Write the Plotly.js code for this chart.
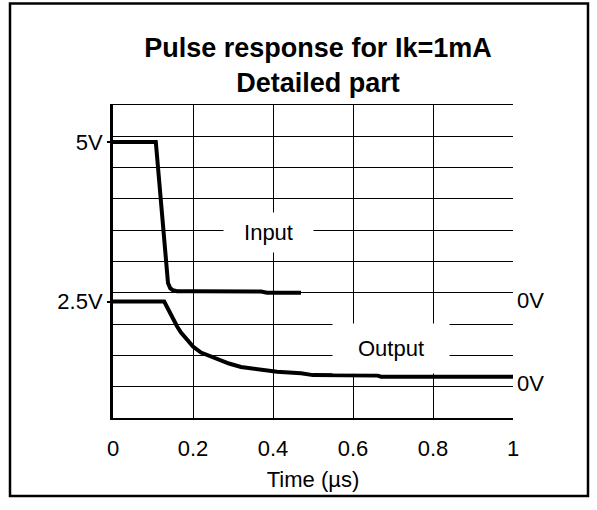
<!DOCTYPE html>
<html>
<head>
<meta charset="utf-8">
<script src="https://cdn.plot.ly/plotly-3.0.1.min.js"></script>
<style>html,body{margin:0;padding:0;background:#fff;}#chart{width:597px;height:510px;}</style>
</head>
<body>
<div id="chart"></div>
<script>
// Time axis (µs)
const inputTime = [0, 0.107, 0.1375, 0.143, 0.15, 0.16, 0.2, 0.25, 0.3, 0.37, 0.385, 0.42, 0.47];
const inputLevel = [8.82, 8.82, 4.31, 4.15, 4.08, 4.05, 4.05, 4.05, 4.04, 4.04, 4.0, 4.0, 4.0];
const outputTime = [0, 0.128, 0.137, 0.149, 0.16, 0.17, 0.185, 0.2, 0.22, 0.255, 0.29, 0.32, 0.37, 0.41, 0.47, 0.5, 0.66, 0.67, 1.0];
const outputLevel = [3.72, 3.72, 3.50, 3.18, 2.93, 2.73, 2.48, 2.28, 2.09, 1.90, 1.74, 1.63, 1.55, 1.48, 1.43, 1.37, 1.36, 1.32, 1.32];
const xTickVals = [0, 0.2, 0.4, 0.6, 0.8, 1];
const xTickText = ['0', '0.2', '0.4', '0.6', '0.8', '1'];
const leftTickVals = [8.82, 3.72];
const leftTickText = ['5V', '2.5V'];
const rightTickVals = [3.77, 1.1];
const rightTickText = ['0V', '0V'];
const seriesLabels = ['Input', 'Output'];
const labelX = [0.389, 0.694];
const labelY = [5.92, 2.22];

const FONT = '"Liberation Sans", Arial, sans-serif';
const FS = 22;

const traces = [
  {x: inputTime, y: inputLevel, type: 'scatter', mode: 'lines', name: seriesLabels[0],
   line: {color: '#000', width: 4}, showlegend: false, hoverinfo: 'skip'},
  {x: outputTime, y: outputLevel, type: 'scatter', mode: 'lines', name: seriesLabels[1],
   line: {color: '#000', width: 4}, showlegend: false, hoverinfo: 'skip'}
];

const layout = {
  width: 597, height: 510,
  margin: {l: 113, r: 84, t: 105, b: 92},
  paper_bgcolor: '#fff', plot_bgcolor: '#fff',
  font: {family: FONT, color: '#000', size: FS},
  title: {text: '<b>Pulse response for Ik=1mA<br>Detailed part</b>',
          font: {family: FONT, size: 27, color: '#000'},
          x: 0.5125, xref: 'paper', xanchor: 'center',
          y: 0.888, yref: 'container', yanchor: 'top'},
  xaxis: {range: [0, 1], tickvals: xTickVals, ticktext: xTickText,
          showgrid: true, gridcolor: '#000', gridwidth: 1,
          showline: true, linecolor: '#000', linewidth: 1.5, mirror: true,
          zeroline: false, ticks: '', tickfont: {size: FS}, ticklabelstandoff: 10,
          title: {text: 'Time (µs)', font: {size: FS}, standoff: 11}},
  yaxis: {range: [0, 10], dtick: 1, tick0: 0, showticklabels: false,
          showgrid: true, gridcolor: '#000', gridwidth: 1,
          showline: false, zeroline: false, ticks: ''},
  yaxis2: {range: [0, 10], overlaying: 'y', side: 'left', anchor: 'x',
           tickvals: leftTickVals, ticktext: leftTickText,
           showgrid: false, zeroline: false,
           showline: true, linecolor: '#000', linewidth: 3,
           ticks: 'outside', ticklen: 3, tickwidth: 2, tickcolor: '#000',
           tickfont: {size: FS}},
  yaxis3: {range: [0, 10], overlaying: 'y', side: 'right', anchor: 'x',
           tickvals: rightTickVals, ticktext: rightTickText,
           showgrid: false, zeroline: false, showline: false,
           ticks: '', tickfont: {size: FS}, ticklabelstandoff: 3},
  annotations: [
    {x: labelX[0], y: labelY[0], xref: 'x', yref: 'y', text: seriesLabels[0], showarrow: false,
     bgcolor: '#fff', width: 89, height: 39, borderpad: 0, font: {size: FS}},
    {x: labelX[1], y: labelY[1], xref: 'x', yref: 'y', text: seriesLabels[1], showarrow: false,
     bgcolor: '#fff', width: 116, height: 49, borderpad: 0, font: {size: FS}}
  ],
  shapes: [
    {type: 'rect', xref: 'paper', yref: 'paper', x0: -0.2575, x1: 1.1875, y0: -0.249, y1: 1.324,
     line: {color: '#000', width: 2.5}, fillcolor: 'rgba(0,0,0,0)', layer: 'above'}
  ]
};

// dummy traces to activate y2 / y3 axes
traces.push({x: [0], y: [null], yaxis: 'y2', type: 'scatter', mode: 'lines', showlegend: false, hoverinfo: 'skip'});
traces.push({x: [0], y: [null], yaxis: 'y3', type: 'scatter', mode: 'lines', showlegend: false, hoverinfo: 'skip'});

Plotly.newPlot('chart', traces, layout, {displayModeBar: false, staticPlot: true});
</script>
</body>
</html>
